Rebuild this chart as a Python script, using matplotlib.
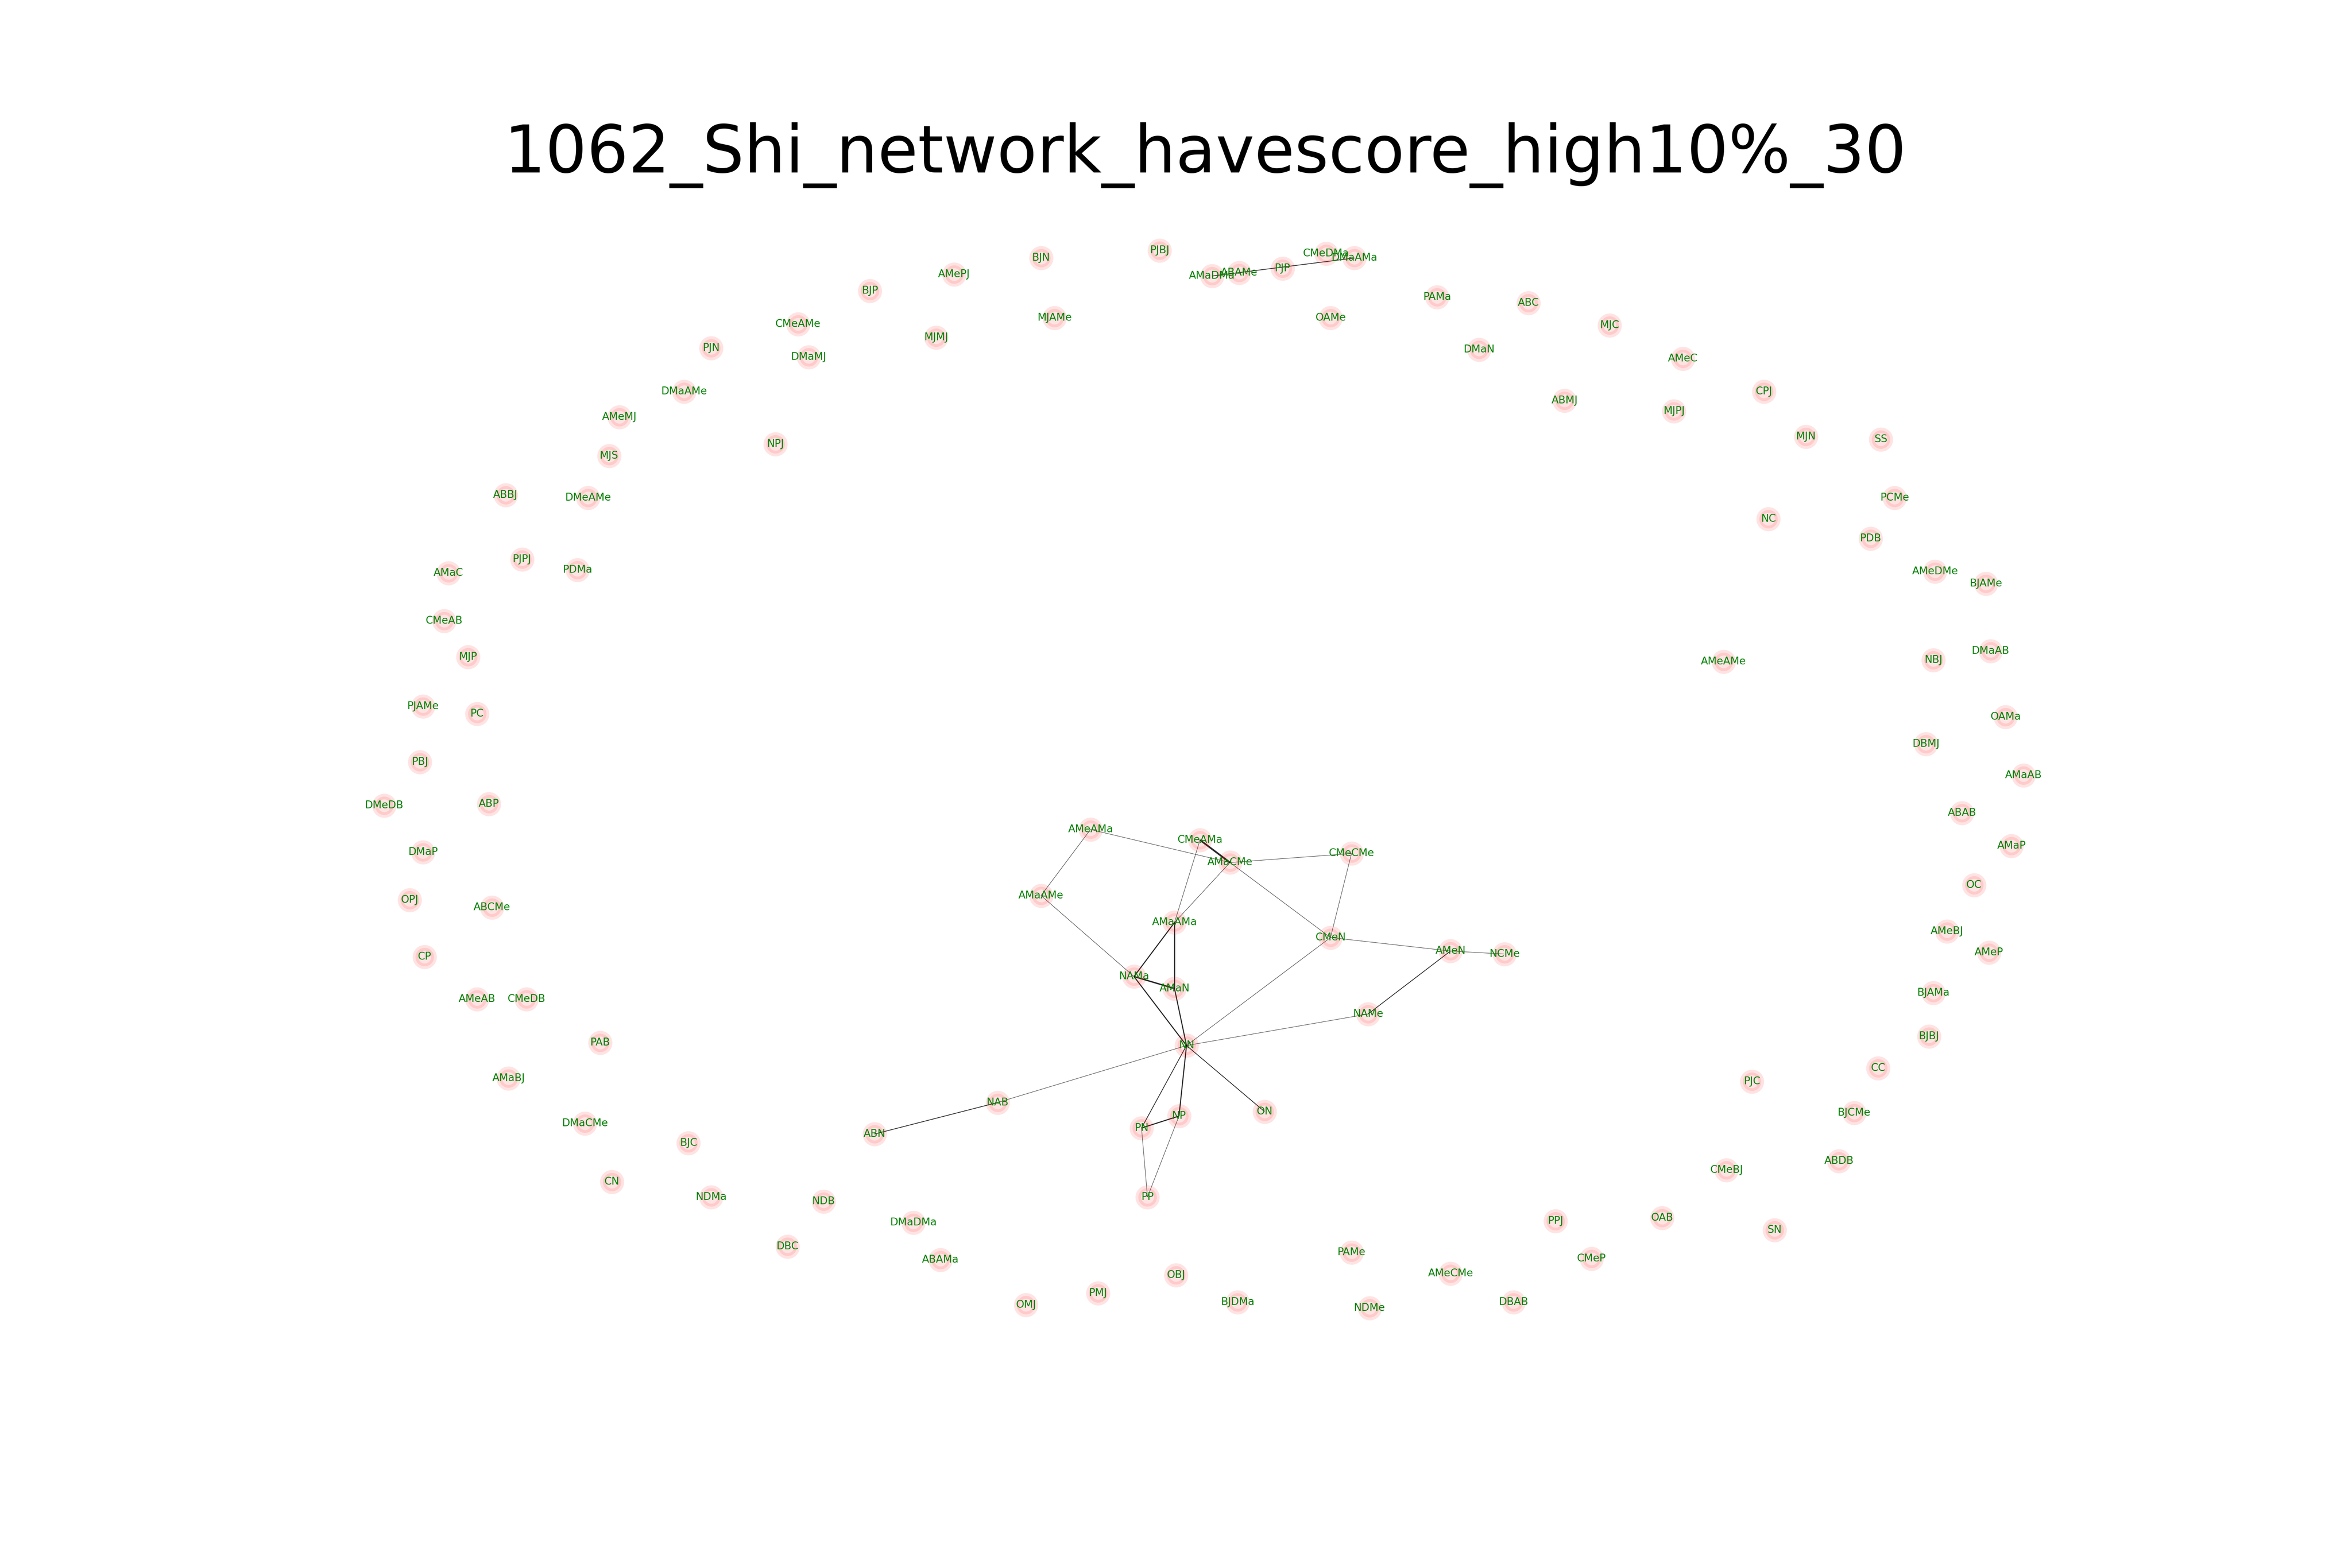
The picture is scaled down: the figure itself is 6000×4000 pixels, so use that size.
import numpy as np
import matplotlib
matplotlib.use("Agg")
import matplotlib.pyplot as plt
from matplotlib.collections import LineCollection

title = "1062_Shi_network_havescore_high10%_30"

# node positions (pixel units of a 1568 x 1045 view, y down)
nodes = ["PJBJ", "BJN", "AMePJ", "BJP", "AMaDMa", "ABAMe", "PJP", "CMeDMa", "DMaAMa",
         "CMeAMe", "MJAMe", "OAMe", "PAMa", "ABC", "MJC", "MJMJ", "DMaMJ", "PJN", "DMaN",
         "AMeC", "DMaAMe", "CPJ", "ABMJ", "MJPJ", "AMeMJ", "MJN", "SS", "NPJ", "MJS",
         "ABBJ", "DMeAMe", "PCMe", "NC", "PDB", "PJPJ", "AMaC", "PDMa", "AMeDMe", "BJAMe",
         "CMeAB", "DMaAB", "NBJ", "AMeAMe", "MJP", "PJAMe", "PC", "OAMa", "DBMJ", "PBJ",
         "AMaAB", "DMeDB", "ABP", "ABAB", "AMeAMa", "CMeAMa", "AMaCMe", "CMeCMe", "DMaP",
         "AMaP", "AMaAMe", "OC", "OPJ", "ABCMe", "AMaAMa", "CMeN", "AMeN", "NCMe", "AMeBJ",
         "AMeP", "CP", "NAMa", "AMaN", "BJAMa", "AMeAB", "CMeDB", "NAMe", "BJBJ", "PAB",
         "NN", "CC", "AMaBJ", "PJC", "NAB", "ON", "BJCMe", "NP", "DMaCMe", "PN", "ABN",
         "BJC", "ABDB", "CMeBJ", "CN", "PP", "NDMa", "NDB", "PPJ", "OAB", "DMaDMa", "SN",
         "DBC", "PAMe", "ABAMa", "CMeP", "AMeCMe", "OBJ", "PMJ", "BJDMa", "OMJ", "NDMe",
         "DBAB"]
pos_x = [773, 694, 636, 580, 808, 826, 855, 884, 903,
         532, 703, 887, 958, 1019, 1073, 624, 539, 474, 986,
         1122, 456, 1176, 1043, 1116, 413, 1204, 1254, 517, 406,
         337, 392, 1263, 1179, 1247, 348, 299, 385, 1290, 1324,
         296, 1327, 1289, 1149, 312, 282, 318, 1337, 1284, 280,
         1349, 256, 326, 1308, 727, 800, 820, 901, 282,
         1341, 694, 1316, 273, 328, 783, 887, 967, 1003, 1298,
         1326, 283, 756, 783, 1289, 318, 351, 912, 1286, 400,
         791, 1252, 339, 1168, 665, 843, 1236, 786, 390, 761, 583,
         459, 1226, 1151, 408, 765, 474, 549, 1037, 1108, 609, 1183,
         525, 901, 627, 1061, 967, 784, 732, 825, 684, 913,
         1009]
pos_y = [167, 172, 183, 194, 184, 182, 179, 169, 172,
         216, 212, 212, 198, 202, 217, 225, 238, 232, 233,
         239, 261, 261, 267, 274, 278, 291, 293, 296, 304,
         330, 332, 332, 346, 359, 373, 382, 380, 381, 389,
         414, 434, 440, 441, 438, 471, 476, 478, 496, 508,
         517, 537, 536, 542, 553, 560, 575, 569, 568,
         564, 597, 590, 600, 605, 615, 625, 634, 636, 621,
         635, 638, 651, 659, 662, 666, 666, 676, 691, 695,
         697, 712, 719, 721, 735, 741, 742, 744, 749, 752, 756,
         762, 774, 780, 788, 798, 798, 801, 814, 812, 815, 820,
         831, 835, 840, 839, 849, 850, 862, 868, 870, 872,
         868]

# edges and their weights
edge_src = ["AMeAMa", "AMeAMa", "CMeAMa", "CMeAMa", "AMaCMe", "AMaCMe", "AMaCMe",
            "CMeCMe", "CMeN", "CMeN", "AMeN", "AMeN", "AMaAMe", "AMaAMa", "AMaAMa",
            "NAMa", "NAMa", "AMaN", "NN", "NN", "NAB", "NN", "NN", "NN", "PN", "PN",
            "NP", "AMaDMa"]
edge_dst = ["AMaCMe", "AMaAMe", "AMaCMe", "AMaAMa", "CMeCMe", "AMaAMa", "CMeN",
            "CMeN", "AMeN", "NN", "NCMe", "NAMe", "NAMa", "NAMa", "AMaN",
            "AMaN", "NN", "NN", "NAMe", "NAB", "ABN", "ON", "PN", "NP", "NP", "PP",
            "PP", "DMaAMa"]
edge_w = [1, 1, 5, 1, 1, 1, 1,
          1, 1, 1, 1, 2, 1, 3, 3,
          4, 3, 3, 1, 1, 2, 2, 2, 3, 3, 1,
          1, 2]

idx = {n: i for i, n in enumerate(nodes)}
W, H = 1568, 1045.3

fig, ax = plt.subplots(figsize=(15, 10))
ax.set_xlim(0.125 * W, 0.9 * W)
ax.set_ylim(0.89 * H, 0.12 * H)
ax.axis("off")

segs = [[(pos_x[idx[a]], pos_y[idx[a]]), (pos_x[idx[b]], pos_y[idx[b]])]
        for a, b in zip(edge_src, edge_dst)]
w = np.array(edge_w, dtype=float)
lc = LineCollection(segs, colors="black", linewidths=0.15 * w + 0.03,
                    alpha=0.85, zorder=1)
ax.add_collection(lc)

ax.scatter(pos_x, pos_y, s=72, color="red", alpha=0.11, linewidths=2.6,
           edgecolors="red", zorder=2)

for n, x, y in zip(nodes, pos_x, pos_y):
    ax.text(x, y, n, fontsize=4.8, color="green", ha="center", va="center", zorder=3)

ax.set_title(title, fontsize=30)

fig.savefig("out.png", dpi=400)
